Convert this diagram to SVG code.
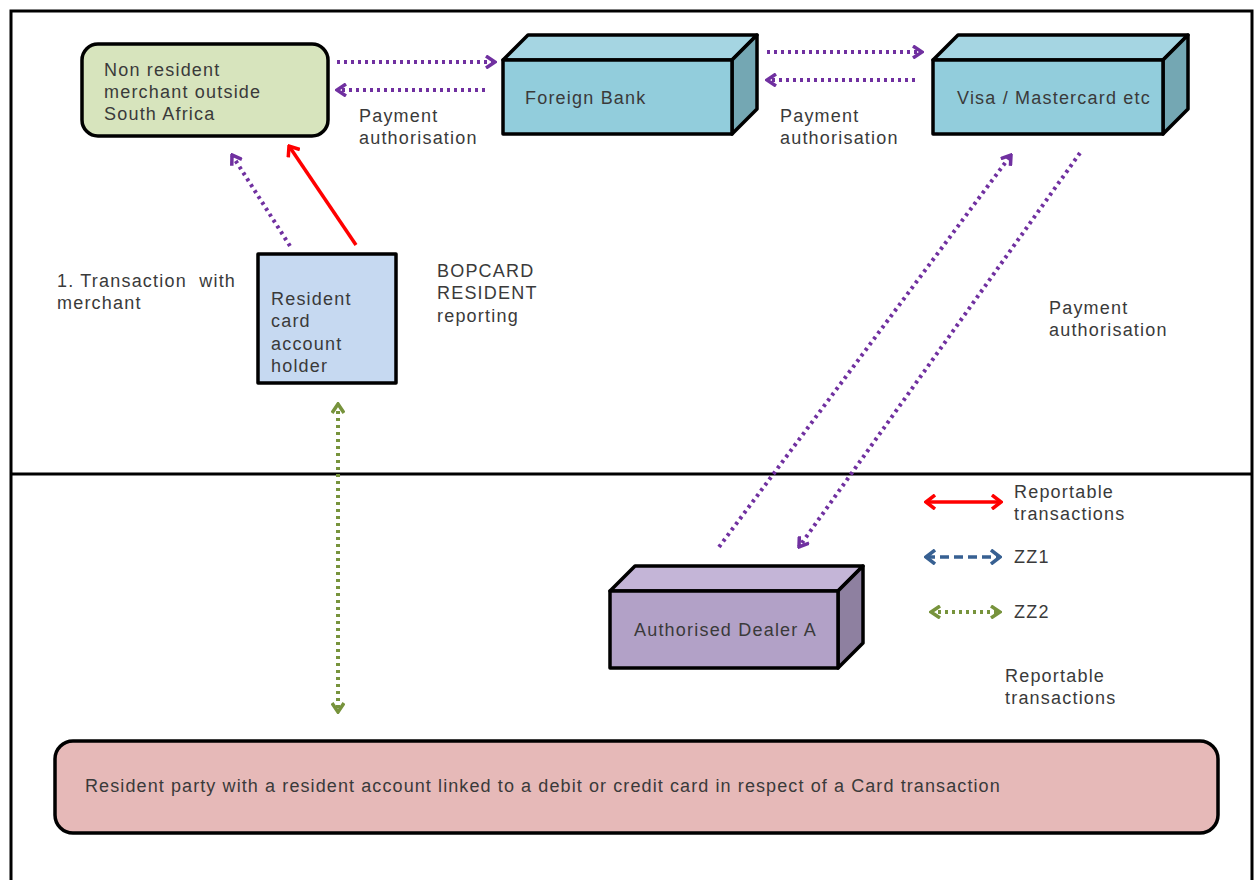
<svg xmlns="http://www.w3.org/2000/svg" width="1257" height="880" viewBox="0 0 1257 880">
<style>
text{font-family:"Liberation Sans",Arial,sans-serif;font-size:18px;fill:#3a3a3a;letter-spacing:1.2px}
.frame{fill:none;stroke:#000;stroke-width:3}
.pur{fill:none;stroke:#7030a0;stroke-width:4;stroke-dasharray:3 4}
.grn{fill:none;stroke:#77933c;stroke-width:4;stroke-dasharray:3 4}
.red{fill:none;stroke:#ff0000;stroke-width:3.5}
.blu{fill:none;stroke:#376092;stroke-width:3.5;stroke-dasharray:9 5}
.box{stroke:#000;stroke-width:3.5;stroke-linejoin:round}
</style>
<defs>
<marker id="ap" markerUnits="userSpaceOnUse" viewBox="0 0 12 14" refX="10" refY="7" markerWidth="12" markerHeight="14" orient="auto-start-reverse"><path d="M1,1 L10,7 L1,13" fill="none" stroke="#7030a0" stroke-width="3.5"/></marker>
<marker id="ag" markerUnits="userSpaceOnUse" viewBox="0 0 12 14" refX="10" refY="7" markerWidth="12" markerHeight="14" orient="auto-start-reverse"><path d="M1,1 L10,7 L1,13" fill="none" stroke="#77933c" stroke-width="3.5"/></marker>
<marker id="ar" markerUnits="userSpaceOnUse" viewBox="0 0 12 16" refX="10" refY="8" markerWidth="12" markerHeight="16" orient="auto-start-reverse"><path d="M1,1 L10,8 L1,15" fill="none" stroke="#ff0000" stroke-width="3.5"/></marker>
<marker id="ab" markerUnits="userSpaceOnUse" viewBox="0 0 12 16" refX="10" refY="8" markerWidth="12" markerHeight="16" orient="auto-start-reverse"><path d="M1,1 L10,8 L1,15" fill="none" stroke="#376092" stroke-width="3.5"/></marker>
</defs>
<rect width="1257" height="880" fill="#fff"/>
<path class="frame" d="M11,890 V11 H1252 V890"/>
<line x1="11" y1="474" x2="1252" y2="474" stroke="#000" stroke-width="3"/>

<g id="merchant">
<rect class="box" x="82" y="44" width="246" height="92" rx="16" fill="#d7e4bd"/>
<text x="104" y="76">Non resident</text>
<text x="104" y="98">merchant outside</text>
<text x="104" y="120">South Africa</text>
</g>

<g id="foreign-bank">
<path class="box" d="M503,60 L528,35 H757 L732,60 Z" fill="#a5d5e2"/>
<path class="box" d="M732,60 L757,35 V109 L732,134 Z" fill="#74a7b3"/>
<rect class="box" x="503" y="60" width="229" height="74" fill="#92cddc"/>
<text x="525" y="104">Foreign Bank</text>
</g>

<g id="visa">
<path class="box" d="M933,60 L958,35 H1188 L1163,60 Z" fill="#a5d5e2"/>
<path class="box" d="M1163,60 L1188,35 V109 L1163,134 Z" fill="#74a7b3"/>
<rect class="box" x="933" y="60" width="230" height="74" fill="#92cddc"/>
<text x="957" y="104">Visa / Mastercard etc</text>
</g>

<g id="card-holder">
<rect class="box" x="258" y="254" width="138" height="129" fill="#c6d9f1"/>
<text x="271" y="305">Resident</text>
<text x="271" y="327">card</text>
<text x="271" y="350">account</text>
<text x="271" y="372">holder</text>
</g>

<g id="dealer">
<path class="box" d="M610,591 L635,566 H863 L838,591 Z" fill="#c4b5d7"/>
<path class="box" d="M838,591 L863,566 V643 L838,668 Z" fill="#8e80a0"/>
<rect class="box" x="610" y="591" width="228" height="77" fill="#b2a1c7"/>
<text x="634" y="636">Authorised Dealer A</text>
</g>

<g id="resident-party">
<rect class="box" x="55" y="741" width="1163" height="92" rx="18" fill="#e6b9b8"/>
<text x="85" y="792" style="letter-spacing:1.1px">Resident party with a resident account linked to a debit or credit card in respect of a Card transaction</text>
</g>

<g id="connectors">
<line class="pur" x1="337" y1="62" x2="495" y2="62" marker-end="url(#ap)"/>
<line class="pur" x1="485" y1="90" x2="337" y2="90" marker-end="url(#ap)"/>
<line class="pur" x1="767" y1="52" x2="922" y2="52" marker-end="url(#ap)"/>
<line class="pur" x1="915" y1="80" x2="767" y2="80" marker-end="url(#ap)"/>
<line class="pur" x1="290" y1="246" x2="232" y2="155" marker-end="url(#ap)"/>
<line class="red" x1="356" y1="245" x2="289" y2="146" marker-end="url(#ar)"/>
<line class="grn" x1="338" y1="404" x2="338" y2="712" marker-start="url(#ag)" marker-end="url(#ag)"/>
<line class="pur" x1="719" y1="547" x2="1011" y2="155" marker-end="url(#ap)"/>
<line class="pur" x1="1080" y1="153" x2="799" y2="547" marker-end="url(#ap)"/>
</g>

<g id="labels">
<text x="359" y="122">Payment</text>
<text x="359" y="144">authorisation</text>
<text x="780" y="122">Payment</text>
<text x="780" y="144">authorisation</text>
<text x="1049" y="314">Payment</text>
<text x="1049" y="336">authorisation</text>
<text x="57" y="287" xml:space="preserve">1. Transaction  with</text>
<text x="57" y="309">merchant</text>
<text x="437" y="277">BOPCARD</text>
<text x="437" y="299">RESIDENT</text>
<text x="437" y="322">reporting</text>
</g>

<g id="legend">
<line class="red" x1="926" y1="502" x2="1001" y2="502" marker-start="url(#ar)" marker-end="url(#ar)"/>
<line class="blu" x1="926" y1="557" x2="1000" y2="557" marker-start="url(#ab)" marker-end="url(#ab)"/>
<line class="grn" x1="931" y1="612" x2="1000" y2="612" marker-start="url(#ag)" marker-end="url(#ag)"/>
<text x="1014" y="498">Reportable</text>
<text x="1014" y="520">transactions</text>
<text x="1014" y="563">ZZ1</text>
<text x="1014" y="618">ZZ2</text>
<text x="1005" y="682">Reportable</text>
<text x="1005" y="704">transactions</text>
</g>
</svg>
